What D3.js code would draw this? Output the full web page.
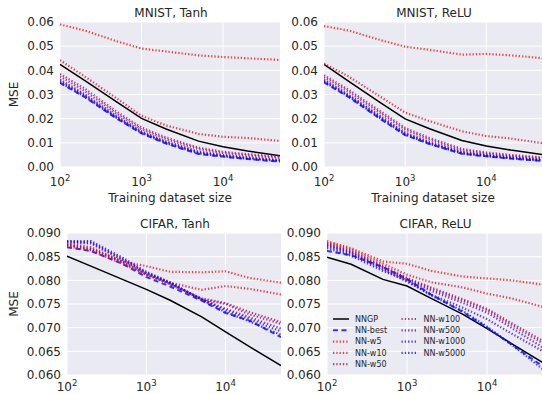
<!DOCTYPE html>
<html>
<head>
<meta charset="utf-8">
<script src="https://cdn.jsdelivr.net/npm/d3@7"></script>
<style>
  body { margin: 0; background: #fff; }
  text { font-family: "DejaVu Sans", sans-serif; fill: #262626; }
</style>
</head>
<body>
<div id="chart"></div>
<script>
// training set sizes (x) shared by all panels
const sizes = [100, 200, 500, 1000, 2000, 5000, 10000, 20000, 50000];
const seriesNames = ['NNGP', 'NN-best', 'NN-w5', 'NN-w10', 'NN-w50', 'NN-w100', 'NN-w500', 'NN-w1000', 'NN-w5000'];
const widths = [5, 10, 50, 100, 500, 1000, 5000];
const xTicks = [100, 1000, 10000];

// one row per series, in seriesNames order
const mnistTanh = [
  [0.0425, 0.0358, 0.0268, 0.0201, 0.0157, 0.0107, 0.0084, 0.0066, 0.0047],
  [0.0348, 0.0290, 0.0200, 0.0139, 0.0097, 0.0054, 0.0043, 0.0033, 0.0022],
  [0.0590, 0.0565, 0.0520, 0.0490, 0.0478, 0.0462, 0.0455, 0.0450, 0.0443],
  [0.0442, 0.0375, 0.0283, 0.0212, 0.0172, 0.0137, 0.0125, 0.0120, 0.0108],
  [0.0385, 0.0325, 0.0228, 0.0163, 0.0122, 0.0080, 0.0063, 0.0053, 0.0043],
  [0.0375, 0.0315, 0.0220, 0.0157, 0.0115, 0.0074, 0.0058, 0.0048, 0.0038],
  [0.0362, 0.0302, 0.0210, 0.0148, 0.0106, 0.0064, 0.0050, 0.0040, 0.0030],
  [0.0356, 0.0297, 0.0205, 0.0144, 0.0102, 0.0060, 0.0047, 0.0037, 0.0027],
  [0.0350, 0.0292, 0.0202, 0.0141, 0.0099, 0.0056, 0.0044, 0.0034, 0.0024]
];
const mnistRelu = [
  [0.0425, 0.0355, 0.0265, 0.0199, 0.0158, 0.0110, 0.0087, 0.0070, 0.0051],
  [0.0350, 0.0290, 0.0198, 0.0132, 0.0095, 0.0055, 0.0044, 0.0035, 0.0025],
  [0.0583, 0.0565, 0.0525, 0.0498, 0.0485, 0.0465, 0.0468, 0.0462, 0.0450],
  [0.0428, 0.0375, 0.0290, 0.0225, 0.0190, 0.0148, 0.0128, 0.0118, 0.0098],
  [0.0380, 0.0320, 0.0230, 0.0162, 0.0120, 0.0075, 0.0060, 0.0050, 0.0040],
  [0.0372, 0.0312, 0.0222, 0.0155, 0.0113, 0.0069, 0.0055, 0.0046, 0.0036],
  [0.0362, 0.0300, 0.0210, 0.0143, 0.0103, 0.0062, 0.0050, 0.0041, 0.0031],
  [0.0357, 0.0296, 0.0205, 0.0138, 0.0099, 0.0059, 0.0047, 0.0038, 0.0028],
  [0.0353, 0.0292, 0.0200, 0.0134, 0.0096, 0.0056, 0.0045, 0.0036, 0.0026]
];
const cifarTanh = [
  [0.0851, 0.0830, 0.0802, 0.0781, 0.0758, 0.0723, 0.0691, 0.0660, 0.0620],
  [0.0870, 0.0862, 0.0835, 0.0807, 0.0787, 0.0757, 0.0731, 0.0715, 0.0680],
  [0.0875, 0.0866, 0.0840, 0.0830, 0.0818, 0.0817, 0.0819, 0.0805, 0.0795],
  [0.0872, 0.0863, 0.0835, 0.0812, 0.0795, 0.0780, 0.0788, 0.0782, 0.0770],
  [0.0875, 0.0866, 0.0838, 0.0812, 0.0792, 0.0762, 0.0752, 0.0733, 0.0712],
  [0.0878, 0.0870, 0.0840, 0.0813, 0.0792, 0.0760, 0.0750, 0.0728, 0.0708],
  [0.0880, 0.0878, 0.0843, 0.0815, 0.0793, 0.0760, 0.0740, 0.0722, 0.0698],
  [0.0882, 0.0880, 0.0845, 0.0816, 0.0795, 0.0760, 0.0737, 0.0718, 0.0692],
  [0.0883, 0.0883, 0.0848, 0.0818, 0.0796, 0.0759, 0.0733, 0.0713, 0.0685]
];
const cifarRelu = [
  [0.0849, 0.0834, 0.0802, 0.0788, 0.0762, 0.0728, 0.0698, 0.0667, 0.0626],
  [0.0862, 0.0853, 0.0828, 0.0803, 0.0770, 0.0733, 0.0700, 0.0665, 0.0618],
  [0.0883, 0.0868, 0.0840, 0.0835, 0.0820, 0.0808, 0.0804, 0.0800, 0.0791],
  [0.0880, 0.0865, 0.0835, 0.0812, 0.0796, 0.0785, 0.0772, 0.0762, 0.0744],
  [0.0878, 0.0862, 0.0830, 0.0805, 0.0785, 0.0760, 0.0740, 0.0710, 0.0672],
  [0.0876, 0.0860, 0.0828, 0.0803, 0.0782, 0.0757, 0.0737, 0.0706, 0.0667],
  [0.0874, 0.0858, 0.0826, 0.0800, 0.0778, 0.0752, 0.0732, 0.0700, 0.0658],
  [0.0872, 0.0856, 0.0823, 0.0797, 0.0770, 0.0742, 0.0718, 0.0688, 0.0650],
  [0.0868, 0.0852, 0.0820, 0.0800, 0.0768, 0.0735, 0.0702, 0.0665, 0.0612]
];

const mnistTicks = [0.00, 0.01, 0.02, 0.03, 0.04, 0.05, 0.06];
const cifarTicks = [0.060, 0.065, 0.070, 0.075, 0.080, 0.085, 0.090];

const W = 542, H = 394;
const panels = [
  { title: 'MNIST, Tanh', data: mnistTanh, ticks: mnistTicks, fmt: '.2f', box: [60, 280, 22, 167], ylab: true, xlab: true },
  { title: 'MNIST, ReLU', data: mnistRelu, ticks: mnistTicks, fmt: '.2f', box: [324, 543, 22, 167], ylab: false, xlab: true },
  { title: 'CIFAR, Tanh', data: cifarTanh, ticks: cifarTicks, fmt: '.3f', box: [67, 281, 233, 375], ylab: true, xlab: false },
  { title: 'CIFAR, ReLU', data: cifarRelu, ticks: cifarTicks, fmt: '.3f', box: [327, 543, 233, 375], ylab: false, xlab: false, legend: true }
];

// red -> blue by log width
const logScale = d3.scaleLinear().domain([Math.log10(5), Math.log10(5000)]).range([0, 1]);
function widthColor(w) {
  const t = logScale(Math.log10(w));
  return d3.rgb(255 * (1 - t), 0, 255 * t).toString();
}
const styles = [
  { color: '#000', dash: null, sw: 1.5, op: 1 },
  { color: '#1f1fff', dash: '5,3.5', sw: 2, op: 0.9 }
].concat(widths.map(w => ({ color: widthColor(w), dash: '1.3,2', sw: 2.2, op: 0.75 })));

const svg = d3.select('#chart').append('svg')
  .attr('width', W).attr('height', H);

panels.forEach(p => {
  const [x0, x1, y0, y1] = p.box;
  const x = d3.scaleLog().domain([100, 50000]).range([x0, x1]);
  const y = d3.scaleLinear().domain([p.ticks[0], p.ticks[p.ticks.length - 1]]).range([y1, y0]);
  const g = svg.append('g');

  const clipId = 'clip' + x0 + '_' + y0;
  g.append('clipPath').attr('id', clipId)
    .append('rect').attr('x', x0).attr('y', y0).attr('width', x1 - x0).attr('height', y1 - y0);

  g.append('rect')
    .attr('x', x0).attr('y', y0).attr('width', x1 - x0).attr('height', y1 - y0)
    .attr('fill', '#eaeaf2');

  g.selectAll('.gx').data(xTicks).join('line')
    .attr('x1', d => x(d)).attr('x2', d => x(d)).attr('y1', y0).attr('y2', y1)
    .attr('stroke', '#fff').attr('stroke-width', 1);
  g.selectAll('.gy').data(p.ticks).join('line')
    .attr('y1', d => y(d)).attr('y2', d => y(d)).attr('x1', x0).attr('x2', x1)
    .attr('stroke', '#fff').attr('stroke-width', 1);

  const line = d3.line().x((d, i) => x(sizes[i])).y(d => y(d));
  g.append('g').attr('clip-path', `url(#${clipId})`)
    .selectAll('path').data(p.data).join('path')
    .attr('d', line)
    .attr('fill', 'none')
    .attr('stroke', (d, i) => styles[i].color)
    .attr('stroke-width', (d, i) => styles[i].sw)
    .attr('stroke-dasharray', (d, i) => styles[i].dash)
    .attr('stroke-opacity', (d, i) => styles[i].op);

  // y tick labels
  g.selectAll('.yt').data(p.ticks).join('text')
    .attr('x', x0 - 6).attr('y', d => y(d)).attr('dy', '0.36em')
    .attr('text-anchor', 'end').attr('font-size', 12)
    .text(d => d3.format(p.fmt)(d));

  // x tick labels 10^n
  const xt = g.selectAll('.xt').data(xTicks).join('text')
    .attr('x', d => x(d)).attr('y', y1 + (p.xlab ? 19 : 16))
    .attr('text-anchor', 'middle').attr('font-size', 12);
  xt.append('tspan').text('10');
  xt.append('tspan').attr('dy', -5).attr('font-size', 8.5).text(d => Math.round(Math.log10(d)));

  g.append('text')
    .attr('x', (x0 + Math.min(x1, W)) / 2 + 1).attr('y', y0 - 5)
    .attr('text-anchor', 'middle').attr('font-size', 12)
    .text(p.title);

  if (p.xlab) {
    g.append('text')
      .attr('x', (x0 + Math.min(x1, W)) / 2).attr('y', y1 + 35)
      .attr('text-anchor', 'middle').attr('font-size', 12)
      .text('Training dataset size');
  }
  if (p.ylab) {
    g.append('text')
      .attr('transform', `translate(18,${(y0 + y1) / 2}) rotate(-90)`)
      .attr('text-anchor', 'middle').attr('font-size', 12)
      .text('MSE');
  }

  if (p.legend) {
    const lg = g.append('g');
    seriesNames.forEach((name, i) => {
      const col = i < 5 ? 0 : 1;
      const row = i < 5 ? i : i - 5;
      const lx = x0 + 6 + col * 68.5;
      const ly = 319 + row * 11.3;
      lg.append('line')
        .attr('x1', lx).attr('x2', lx + 16).attr('y1', ly).attr('y2', ly)
        .attr('stroke', styles[i].color)
        .attr('stroke-width', styles[i].sw)
        .attr('stroke-dasharray', styles[i].dash)
        .attr('stroke-opacity', styles[i].op);
      lg.append('text')
        .attr('x', lx + 22).attr('y', ly).attr('dy', '0.35em')
        .attr('font-size', 8)
        .text(name);
    });
  }
});
</script>
</body>
</html>
